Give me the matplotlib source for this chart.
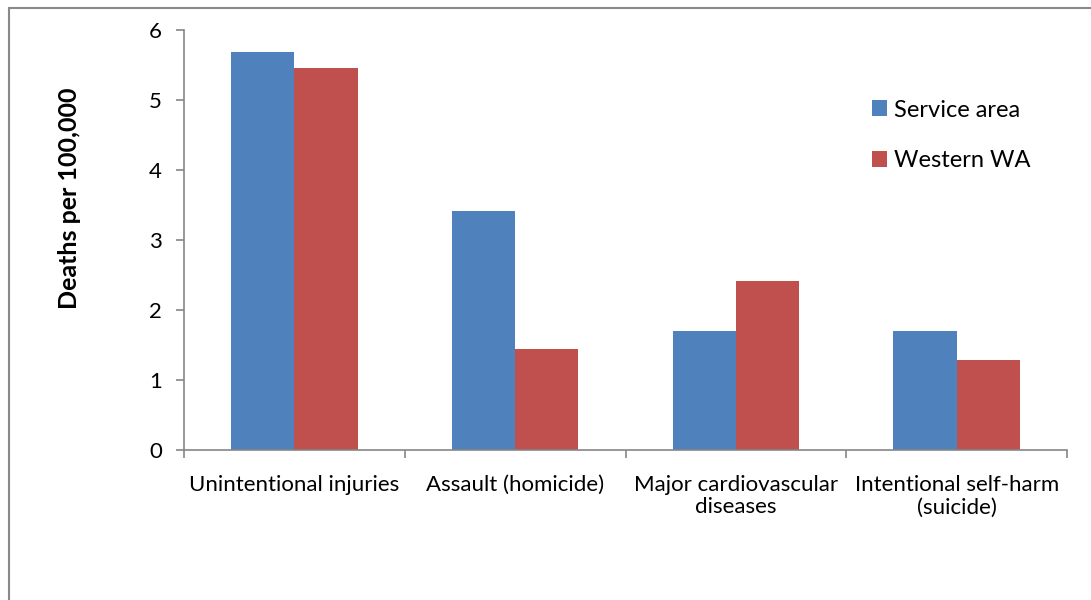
import matplotlib.pyplot as plt
import numpy as np
from matplotlib.patches import Rectangle

categories = ["Unintentional injuries", "Assault (homicide)",
              "Major cardiovascular\ndiseases", "Intentional self-harm\n(suicide)"]
service_area = [5.69, 3.41, 1.70, 1.70]
western_wa = [5.46, 1.44, 2.41, 1.29]
series_names = ["Service area", "Western WA"]

plt.rcParams['font.family'] = ['Lato', 'DejaVu Sans']

fig = plt.figure(figsize=(10.91, 6.0), dpi=100)
ax = fig.add_axes([0.1687, 0.25, 0.8093, 0.70])

# outer chart border (left and top visible)
fig.patches.append(Rectangle((9 / 1091, -0.1), 1.2, 1 - 8 / 600 + 0.1,
                             transform=fig.transFigure, fill=False,
                             edgecolor='#898989', linewidth=1.5))

x = np.arange(len(categories))
w = 0.286
ax.bar(x - w / 2, service_area, w, color='#4F81BD', label=series_names[0])
ax.bar(x + w / 2, western_wa, w, color='#C0504D', label=series_names[1])

ax.set_xlim(-0.5, len(categories) - 0.5)
ax.set_ylim(0, 6)
ax.set_yticks(range(0, 7))
ax.set_xticks(x)
ax.set_xticklabels(categories, fontsize=16, linespacing=1.15)
ax.set_xticks(np.arange(-0.5, len(categories)), minor=True)
ax.tick_params(axis='x', which='major', length=0, pad=18)
ax.tick_params(axis='x', which='minor', length=6, color='#868686', width=1.2)
ax.tick_params(axis='y', length=6, color='#868686', width=1.2, labelsize=16, pad=10)

for side in ['top', 'right']:
    ax.spines[side].set_visible(False)
for side in ['left', 'bottom']:
    ax.spines[side].set_color('#868686')
    ax.spines[side].set_linewidth(1.2)

ax.set_ylabel("Deaths per 100,000", fontsize=18, fontweight='bold')
ax.yaxis.set_label_coords(-0.117, 0.6)

ax.legend(loc='upper left', bbox_to_anchor=(0.755, 0.885), frameon=False,
          fontsize=17, handlelength=0.65, handleheight=0.65, handletextpad=0.3,
          labelspacing=1.25)

fig.savefig("out.png", dpi=100)
